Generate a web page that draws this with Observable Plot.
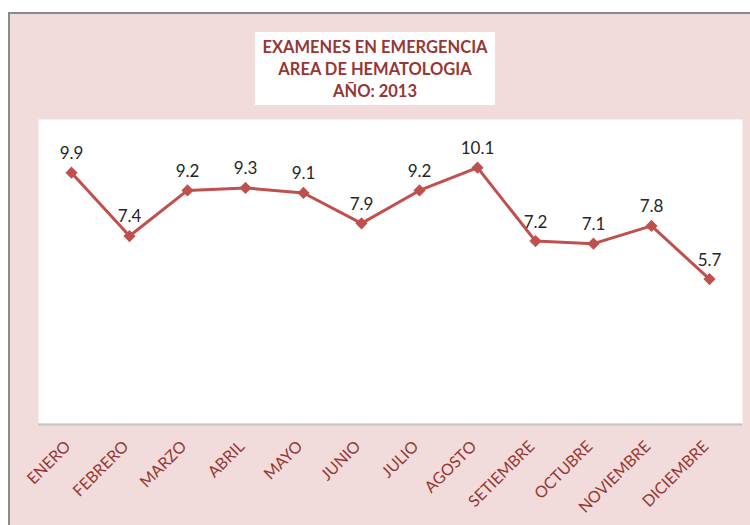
<!DOCTYPE html>
<html>
<head>
<meta charset="utf-8">
<script src="https://cdn.jsdelivr.net/npm/d3@7"></script>
<script src="https://cdn.jsdelivr.net/npm/@observablehq/plot@0.6"></script>
<style>
  html, body { margin: 0; padding: 0; background: #ffffff; }
  #wrap {
    position: relative;
    margin-left: 8px; margin-top: 12px;
    border-left: 2px solid #8a8a8a; border-top: 2px solid #8a8a8a;
    width: 740px; height: 511px; overflow: hidden;
    background: #f2dcdb;
  }
  #title {
    position: absolute; left: 245px; top: 18px; width: 240px; height: 73px;
    background: #ffffff; color: #953735;
    font-family: Lato, "Liberation Sans", sans-serif; font-weight: bold;
    font-size: 16.5px; line-height: 22px; text-align: center;
    box-sizing: border-box; padding-top: 4px;
  }
  #chart svg { display: block; }
</style>
</head>
<body>
<div id="wrap">
  <div id="chart"></div>
  <div id="title">EXAMENES EN EMERGENCIA<br>AREA DE HEMATOLOGIA<br>AÑO: 2013</div>
</div>
<script>
const months = ["ENERO","FEBRERO","MARZO","ABRIL","MAYO","JUNIO","JULIO","AGOSTO","SETIEMBRE","OCTUBRE","NOVIEMBRE","DICIEMBRE"];
const values = [9.9, 7.4, 9.2, 9.3, 9.1, 7.9, 9.2, 10.1, 7.2, 7.1, 7.8, 5.7];

const lineColor = "#c0504d";
const labelColor = "#953735";

const chart = Plot.plot({
  width: 740,
  height: 511,
  marginLeft: 28,
  marginRight: 8,
  marginTop: 105,
  marginBottom: 102,
  style: { background: "#f2dcdb", fontFamily: "Lato, 'Liberation Sans', sans-serif" },
  x: { type: "point", domain: months, padding: 0.5, axis: null },
  y: { domain: [0, 12], axis: null },
  marks: [
    Plot.frame({ fill: "white", stroke: null }),
    Plot.ruleY([0], { stroke: "#c4c4c4", strokeWidth: 2, dy: 1 }),
    Plot.lineY(values, { x: (d, i) => months[i], y: d => d, stroke: lineColor, strokeWidth: 3 }),
    Plot.dot(values, { x: (d, i) => months[i], y: d => d, symbol: "diamond2", r: 5.5, fill: lineColor, stroke: null }),
    Plot.text(values, { x: (d, i) => months[i], y: d => d, text: d => d.toFixed(1), dy: -19, fontSize: 17, fill: "#262626" }),
    Plot.text(months, { x: d => d, frameAnchor: "bottom", text: d => d, rotate: -45, textAnchor: "end", dy: 24, dx: 0, fontSize: 16, fill: labelColor })
  ]
});
document.getElementById("chart").append(chart);
</script>
</body>
</html>
